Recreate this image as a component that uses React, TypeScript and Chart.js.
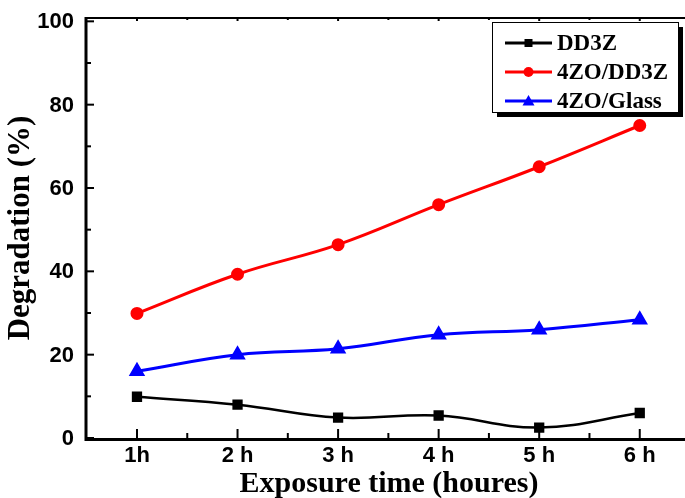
import React, { useEffect, useRef } from "react";
import { Chart, registerables } from "chart.js";

Chart.register(...registerables);

const categories = ["1h", "2 h", "3 h", "4 h", "5 h", "6 h"];
const dd3z = [9.9, 8.0, 4.9, 5.4, 2.5, 6.0];
const zoDd3z = [29.9, 39.3, 46.4, 56.0, 65.1, 75.0];
const zoGlass = [16.0, 20.0, 21.4, 24.8, 26.0, 28.4];
const yTicks = [0, 20, 40, 60, 80, 100];

const seriesNames = ["DD3Z", "4ZO/DD3Z", "4ZO/Glass"];
const seriesColors = ["#000000", "#ff0000", "#0000ff"];
const seriesMarkers = ["rect", "circle", "triangle"];

function drawMarker(ctx: CanvasRenderingContext2D, style: string, x: number, y: number, color: string) {
  ctx.save();
  ctx.fillStyle = color;
  ctx.beginPath();
  if (style === "rect") {
    ctx.rect(x - 4, y - 4, 8, 8);
  } else if (style === "circle") {
    ctx.arc(x, y, 5, 0, Math.PI * 2);
  } else {
    ctx.moveTo(x, y - 6);
    ctx.lineTo(x + 6, y + 4.5);
    ctx.lineTo(x - 6, y + 4.5);
    ctx.closePath();
  }
  ctx.fill();
  ctx.restore();
}

const framePlugin = {
  id: "frame",
  beforeDatasetsDraw(chart: any) {
    const ctx = chart.ctx as CanvasRenderingContext2D;
    const { left, top, bottom } = chart.chartArea;
    const right = chart.width;
    const xs = chart.scales.x;
    const ys = chart.scales.y;
    ctx.save();
    ctx.strokeStyle = "#000";
    ctx.lineCap = "butt";
    // top border
    ctx.lineWidth = 2;
    ctx.beginPath();
    ctx.moveTo(left, top);
    ctx.lineTo(right, top);
    ctx.stroke();
    // left and bottom
    ctx.lineWidth = 3;
    ctx.beginPath();
    ctx.moveTo(left, top - 1);
    ctx.lineTo(left, bottom + 1.5);
    ctx.lineTo(right, bottom + 1.5);
    ctx.stroke();
    ctx.lineWidth = 2;
    // y ticks
    for (let v = 0; v <= 100; v += 10) {
      const py = ys.getPixelForValue(v);
      const len = v % 20 === 0 ? 8 : 5;
      ctx.beginPath();
      ctx.moveTo(left, py);
      ctx.lineTo(left + len, py);
      ctx.stroke();
    }
    // x ticks
    for (let i = 1; i <= categories.length; i++) {
      const px = xs.getPixelForValue(i);
      ctx.beginPath();
      ctx.moveTo(px, bottom);
      ctx.lineTo(px, bottom - 9);
      ctx.stroke();
      ctx.beginPath();
      ctx.moveTo(px, top);
      ctx.lineTo(px, top + 3);
      ctx.stroke();
      if (i < categories.length) {
        const mx = xs.getPixelForValue(i + 0.5);
        ctx.beginPath();
        ctx.moveTo(mx, bottom);
        ctx.lineTo(mx, bottom - 5);
        ctx.stroke();
        ctx.beginPath();
        ctx.moveTo(mx, top);
        ctx.lineTo(mx, top + 2);
        ctx.stroke();
      }
    }
    // tick labels
    ctx.fillStyle = "#000";
    ctx.font = "bold 22px 'Liberation Sans', Arial, sans-serif";
    ctx.textBaseline = "middle";
    ctx.textAlign = "right";
    for (const v of yTicks) {
      ctx.fillText(String(v), left - 12, ys.getPixelForValue(v) + 1);
    }
    ctx.textAlign = "center";
    for (let i = 0; i < categories.length; i++) {
      ctx.fillText(categories[i], xs.getPixelForValue(i + 1), bottom + 18);
    }
    ctx.restore();
  },
  afterDraw(chart: any) {
    const ctx = chart.ctx as CanvasRenderingContext2D;
    const { top, bottom } = chart.chartArea;
    ctx.save();
    // axis titles
    ctx.fillStyle = "#000";
    ctx.font = "bold 31px 'Liberation Serif', 'Times New Roman', serif";
    ctx.textAlign = "center";
    ctx.textBaseline = "middle";
    ctx.save();
    ctx.translate(21, (top + bottom) / 2);
    ctx.rotate(-Math.PI / 2);
    ctx.fillText("Degradation (%)", 0, 0);
    ctx.restore();
    ctx.font = "bold 30px 'Liberation Serif', 'Times New Roman', serif";
    ctx.fillText("Exposure time (houres)", 389, 484);

    // legend
    const bx = 492, by = 22, bw = 186, bh = 90;
    ctx.fillStyle = "#000";
    ctx.fillRect(bx + 5, by + 5, bw, bh);
    ctx.fillStyle = "#fff";
    ctx.fillRect(bx, by, bw, bh);
    ctx.strokeStyle = "#000";
    ctx.lineWidth = 1;
    ctx.strokeRect(bx + 0.5, by + 0.5, bw, bh);
    ctx.font = "bold 23px 'Liberation Serif', 'Times New Roman', serif";
    ctx.textAlign = "left";
    ctx.textBaseline = "middle";
    const rows = [44, 73, 102];
    for (let i = 0; i < seriesNames.length; i++) {
      const y = rows[i] - 1;
      ctx.strokeStyle = seriesColors[i];
      ctx.lineWidth = 3;
      ctx.beginPath();
      ctx.moveTo(505, y);
      ctx.lineTo(552, y);
      ctx.stroke();
      drawMarker(ctx, seriesMarkers[i], 528.5, y, seriesColors[i]);
      ctx.fillStyle = "#000";
      ctx.fillText(seriesNames[i], 557, rows[i]);
    }
    ctx.restore();
  },
};

export default function App() {
  const ref = useRef<HTMLCanvasElement | null>(null);
  useEffect(() => {
    if (!ref.current) return;
    const mk = (arr: number[]) => arr.map((y, i) => ({ x: i + 1, y }));
    const chart = new Chart(ref.current, {
      type: "line",
      data: {
        datasets: [
          {
            label: seriesNames[0],
            data: mk(dd3z),
            borderColor: seriesColors[0],
            backgroundColor: seriesColors[0],
            borderWidth: 2.5,
            pointStyle: "rect",
            pointRadius: 5.5,
            tension: 0.4,
          },
          {
            label: seriesNames[1],
            data: mk(zoDd3z),
            borderColor: seriesColors[1],
            backgroundColor: seriesColors[1],
            borderWidth: 3,
            pointStyle: "circle",
            pointRadius: 5,
            tension: 0.4,
          },
          {
            label: seriesNames[2],
            data: mk(zoGlass),
            borderColor: seriesColors[2],
            backgroundColor: seriesColors[2],
            borderWidth: 3,
            pointStyle: "triangle",
            pointRadius: 6.5,
            tension: 0.4,
          },
        ] as any,
      },
      options: {
        animation: false,
        responsive: false,
        maintainAspectRatio: false,
        clip: false,
        layout: { autoPadding: false, padding: { top: 18, right: 0, left: 0, bottom: 0 } },
        plugins: { legend: { display: false }, tooltip: { enabled: false } },
        scales: {
          x: {
            type: "linear",
            min: 0.493,
            max: 6.45,
            grid: { display: false, drawTicks: false },
            border: { display: false },
            ticks: { display: false, stepSize: 1, includeBounds: false },
            afterFit: (s: any) => {
              s.height = 60;
            },
          },
          y: {
            type: "linear",
            min: 0,
            max: 100.8,
            grid: { display: false, drawTicks: false },
            border: { display: false },
            ticks: { display: false, stepSize: 20, includeBounds: false },
            afterFit: (s: any) => {
              s.width = 86;
            },
          },
        },
      } as any,
      plugins: [framePlugin],
    });
    return () => chart.destroy();
  }, []);
  return (
    <div style={{ position: "fixed", left: 0, top: 0, width: 685, height: 498, background: "#fff" }}>
      <canvas ref={ref} width={685} height={498} style={{ width: 685, height: 498 }} />
    </div>
  );
}
